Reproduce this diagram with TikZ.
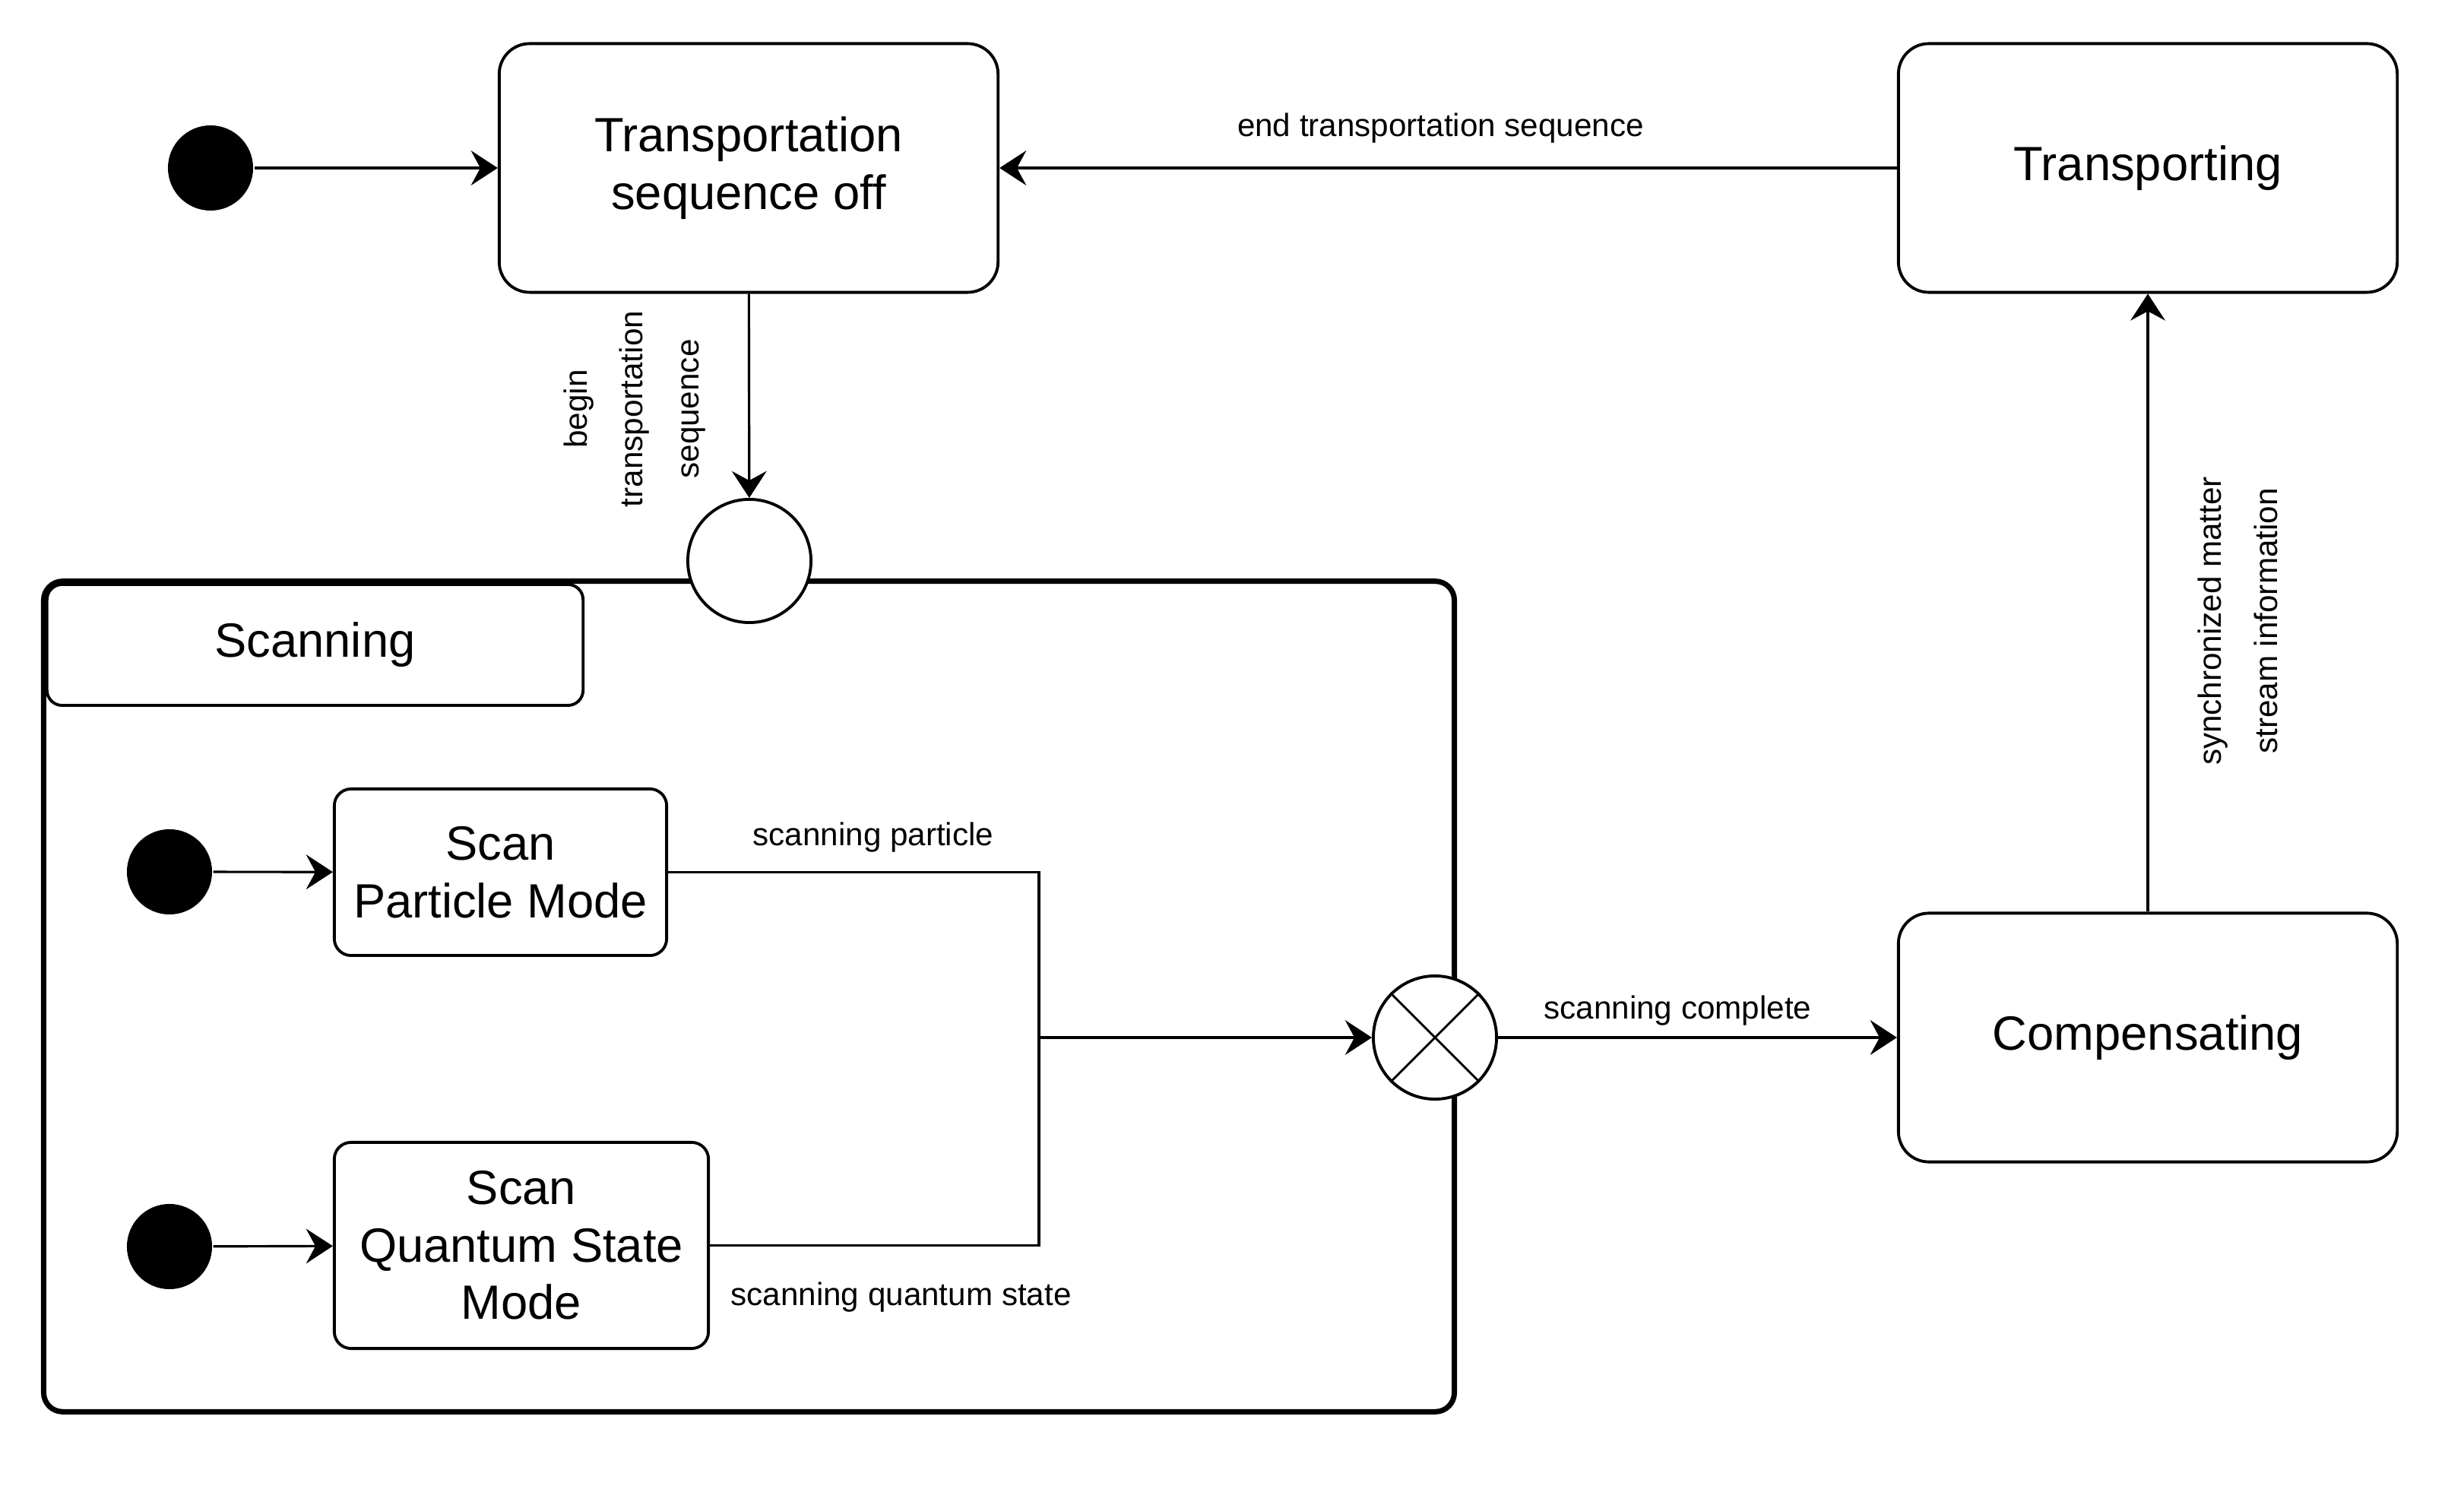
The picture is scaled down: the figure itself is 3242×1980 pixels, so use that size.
\documentclass[tikz,border=0pt]{standalone}
\usepackage{fontspec}
\setmainfont{Liberation Sans}
\usetikzlibrary{arrows.meta}

\begin{document}
\begin{tikzpicture}[x=0.01cm, y=-0.01cm, line width=0.9pt,
    >={Stealth[length=10pt, width=13pt, inset=3.5pt]},
    state/.style={rectangle, draw, line width=1.1pt, rounded corners=0.4cm, minimum width=6.56cm, minimum height=3.27cm, align=center, font=\fontsize{18}{21.5}\selectfont},
    substate/.style={state, rounded corners=0.22cm},
    initdot/.style={circle, fill=black, minimum size=1.12cm, inner sep=0pt},
    port/.style={circle, draw, fill=white, line width=1.1pt, minimum size=1.62cm, inner sep=0pt},
    lbl/.style={font=\fontsize{12}{21}\selectfont, align=center, inner sep=2pt}]

    \useasboundingbox (0,0) rectangle (3242,1980);

    % Top row
    \node[initdot] (init) at (277,221) {};
    \node[state] (seqoff) at (985,221) {Transportation\\sequence off};
    \node[state] (transp) at (2826,221) {Transporting};

    % Scanning composite state
    \node[draw, line width=2pt, rounded corners=0.25cm, minimum width=18.55cm, minimum height=10.92cm] (scanbox) at (985.5,1311) {};
    \node[substate, minimum width=7.05cm, minimum height=1.59cm, rounded corners=0.2cm] (scantab) at (414.5,848.5) {Scanning};
    \node[port] (entry) at (986,738) {};
    \node[port] (exit) at (1888,1365) {};
    \draw[line width=0.8pt] (exit.north west) -- (exit.south east);
    \draw[line width=0.8pt] (exit.north east) -- (exit.south west);

    % Inside Scanning
    \node[initdot] (initp) at (223,1147) {};
    \node[initdot] (initq) at (223,1640) {};
    \node[substate, minimum width=4.37cm, minimum height=2.19cm] (part) at (658.5,1147.5) {Scan\\Particle Mode};
    \node[substate, minimum width=4.92cm, minimum height=2.71cm] (quant) at (686,1638.5) {Scan\\Quantum State\\Mode};
    \coordinate (join) at (1367,1365);

    % Right side
    \node[state] (comp) at (2826,1365) {Compensating};

    % Transitions
    \draw[->] (init) -- (seqoff);
    \draw[->] (transp) -- node[lbl, midway, xshift=-0.1cm, yshift=0.52cm] {end transportation sequence} (seqoff);
    \draw[->] (seqoff) -- (entry);
    \node[lbl, rotate=90] (beginlbl) at (835,538) {begin\\transportation\\sequence};
    \draw[->] (initp) -- (part);
    \draw[->] (initq) -- (quant);
    \draw (part.east) -| node[lbl, pos=0.25, xshift=0.26cm, yshift=0.46cm] {scanning particle} (join);
    \draw (quant.east) -| node[lbl, pos=0.25, xshift=0.35cm, yshift=-0.68cm] {scanning quantum state} (join);
    \draw[->] (join) -- (exit);
    \draw[->] (exit) -- node[lbl, midway, xshift=-0.26cm, yshift=0.35cm] {scanning complete} (comp);
    \draw[->] (comp) -- (transp);
    \node[lbl, rotate=90] (synclbl) at (2944,817) {synchronized matter\\stream information};
\end{tikzpicture}
\end{document}
